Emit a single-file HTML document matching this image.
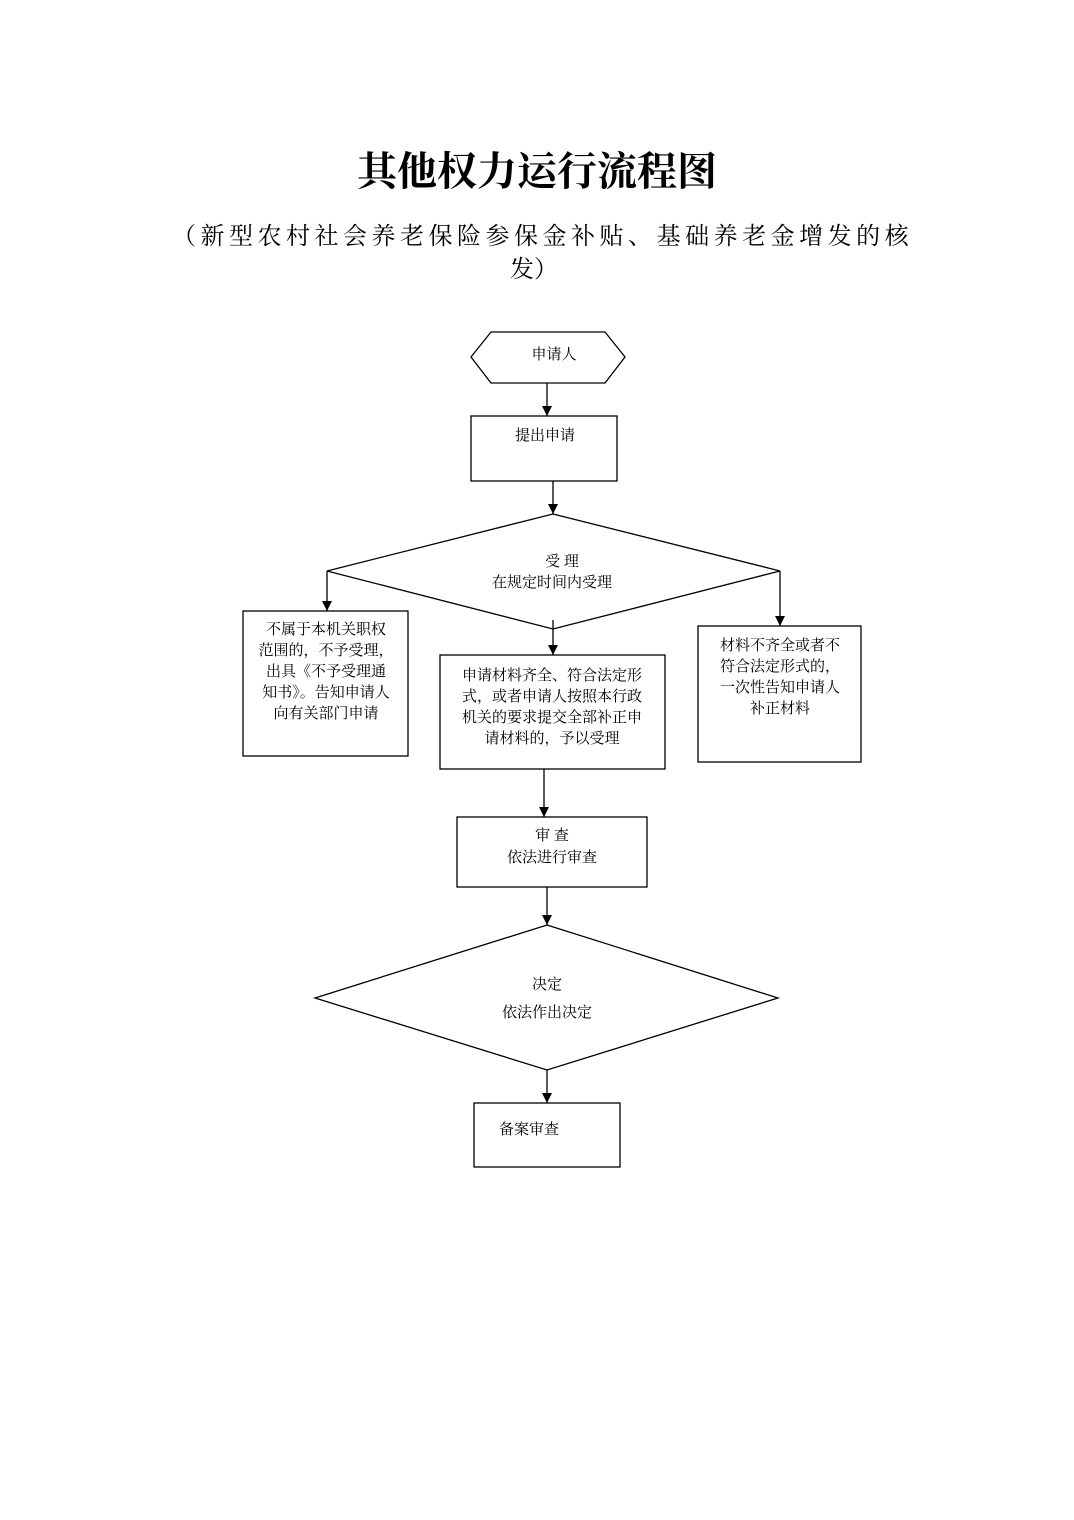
<!DOCTYPE html>
<html><head><meta charset="utf-8"><style>
html,body{margin:0;padding:0;background:#fff;}
svg{display:block;}
</style></head><body>
<svg width="1074" height="1520" viewBox="0 0 1074 1520" xmlns="http://www.w3.org/2000/svg">
<defs><marker id="a" markerWidth="10" markerHeight="10" refX="10" refY="5" orient="auto" markerUnits="userSpaceOnUse"><path d="M0,0 L10,5 L0,10 z" fill="#000"/></marker></defs>
<g font-family="'Liberation Serif','Noto Serif CJK SC',serif" fill="#000">
<text x="537" y="185" font-size="40" font-weight="bold" text-anchor="middle">其他权力运行流程图</text>
<text x="172" y="244" font-size="24" letter-spacing="3.4" textLength="740" lengthAdjust="spacing">（新型农村社会养老保险参保金补贴、基础养老金增发的核</text>
<text x="510" y="277" font-size="24">发）</text>
</g>
<g stroke="#000" stroke-width="1.3" fill="none">
<polygon points="471,357 491,332 605,332 625,357 605,383 491,383"/>
<rect x="471" y="416" width="146" height="65"/>
<polygon points="553,514 780,571 553,629 327,571"/>
<rect x="243" y="611" width="165" height="145"/>
<rect x="698" y="626" width="163" height="136"/>
<rect x="440" y="655" width="225" height="114"/>
<rect x="457" y="817" width="190" height="70"/>
<polygon points="547,925 778,998 547,1070 315,998"/>
<rect x="474" y="1103" width="146" height="64"/>
<line x1="547" y1="383" x2="547" y2="416" marker-end="url(#a)"/>
<line x1="553" y1="481" x2="553" y2="514" marker-end="url(#a)"/>
<line x1="327" y1="571" x2="327" y2="611" marker-end="url(#a)"/>
<line x1="780" y1="571" x2="780" y2="626" marker-end="url(#a)"/>
<line x1="553" y1="620" x2="553" y2="655" marker-end="url(#a)"/>
<line x1="544" y1="769" x2="544" y2="817" marker-end="url(#a)"/>
<line x1="547" y1="887" x2="547" y2="925" marker-end="url(#a)"/>
<line x1="547" y1="1070" x2="547" y2="1103" marker-end="url(#a)"/>
</g>
<g font-family="'Liberation Serif','Noto Serif CJK SC',serif" font-size="15" fill="#000" text-anchor="middle">
<text x="554" y="359">申请人</text>
<text x="545" y="440">提出申请</text>
<text x="562" y="566">受  理</text>
<text x="552" y="587">在规定时间内受理</text>
<text x="326" y="634">不属于本机关职权</text>
<text x="326" y="655">范围的，不予受理，</text>
<text x="326" y="676">出具《不予受理通</text>
<text x="326" y="697">知书》。告知申请人</text>
<text x="326" y="718">向有关部门申请</text>
<text x="552" y="680">申请材料齐全、符合法定形</text>
<text x="552" y="701">式，或者申请人按照本行政</text>
<text x="552" y="722">机关的要求提交全部补正申</text>
<text x="552" y="743">请材料的，予以受理</text>
<text x="780" y="650">材料不齐全或者不</text>
<text x="780" y="671">符合法定形式的，</text>
<text x="780" y="692">一次性告知申请人</text>
<text x="780" y="713">补正材料</text>
<text x="552" y="840">审  查</text>
<text x="552" y="862">依法进行审查</text>
<text x="547" y="989">决定</text>
<text x="547" y="1017">依法作出决定</text>
<text x="529" y="1134">备案审查</text>
</g>
</svg>
</body></html>
